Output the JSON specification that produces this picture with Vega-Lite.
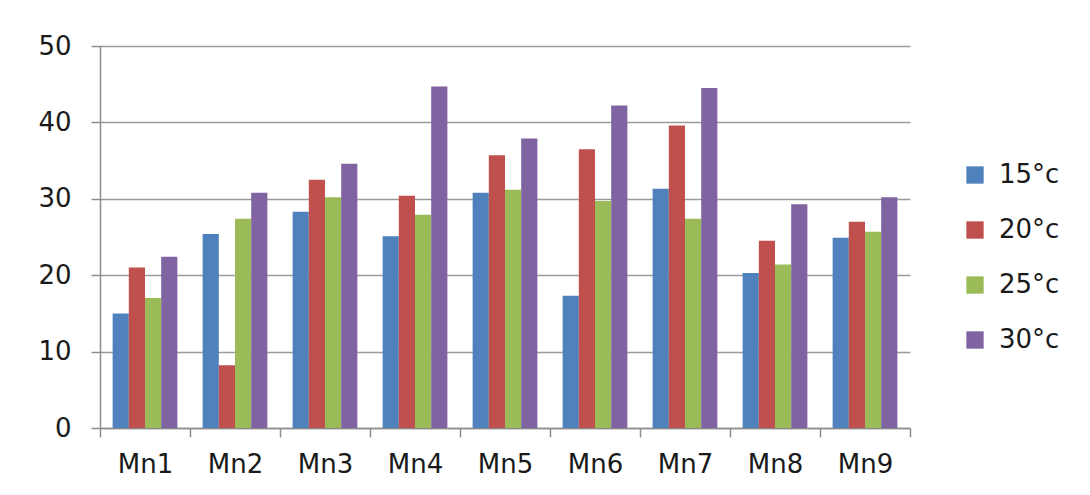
{
  "$schema": "https://vega.github.io/schema/vega-lite/v6.json",
  "autosize": {"type": "none"},
  "padding": {"left": 100, "top": 46, "right": 180, "bottom": 67},
  "width": 810,
  "height": 382,
  "background": "white",
  "data": {
    "values": [
      {"sample": "Mn1", "temp": "15°c", "value": 15.0},
      {"sample": "Mn1", "temp": "20°c", "value": 21.0},
      {"sample": "Mn1", "temp": "25°c", "value": 17.0},
      {"sample": "Mn1", "temp": "30°c", "value": 22.4},
      {"sample": "Mn2", "temp": "15°c", "value": 25.4},
      {"sample": "Mn2", "temp": "20°c", "value": 8.2},
      {"sample": "Mn2", "temp": "25°c", "value": 27.4},
      {"sample": "Mn2", "temp": "30°c", "value": 30.8},
      {"sample": "Mn3", "temp": "15°c", "value": 28.3},
      {"sample": "Mn3", "temp": "20°c", "value": 32.5},
      {"sample": "Mn3", "temp": "25°c", "value": 30.2},
      {"sample": "Mn3", "temp": "30°c", "value": 34.6},
      {"sample": "Mn4", "temp": "15°c", "value": 25.1},
      {"sample": "Mn4", "temp": "20°c", "value": 30.4},
      {"sample": "Mn4", "temp": "25°c", "value": 27.9},
      {"sample": "Mn4", "temp": "30°c", "value": 44.7},
      {"sample": "Mn5", "temp": "15°c", "value": 30.8},
      {"sample": "Mn5", "temp": "20°c", "value": 35.7},
      {"sample": "Mn5", "temp": "25°c", "value": 31.2},
      {"sample": "Mn5", "temp": "30°c", "value": 37.9},
      {"sample": "Mn6", "temp": "15°c", "value": 17.3},
      {"sample": "Mn6", "temp": "20°c", "value": 36.5},
      {"sample": "Mn6", "temp": "25°c", "value": 29.7},
      {"sample": "Mn6", "temp": "30°c", "value": 42.2},
      {"sample": "Mn7", "temp": "15°c", "value": 31.3},
      {"sample": "Mn7", "temp": "20°c", "value": 39.6},
      {"sample": "Mn7", "temp": "25°c", "value": 27.4},
      {"sample": "Mn7", "temp": "30°c", "value": 44.5},
      {"sample": "Mn8", "temp": "15°c", "value": 20.3},
      {"sample": "Mn8", "temp": "20°c", "value": 24.5},
      {"sample": "Mn8", "temp": "25°c", "value": 21.4},
      {"sample": "Mn8", "temp": "30°c", "value": 29.3},
      {"sample": "Mn9", "temp": "15°c", "value": 24.9},
      {"sample": "Mn9", "temp": "20°c", "value": 27.0},
      {"sample": "Mn9", "temp": "25°c", "value": 25.7},
      {"sample": "Mn9", "temp": "30°c", "value": 30.2}
    ]
  },
  "mark": {"type": "bar"},
  "encoding": {
    "x": {
      "field": "sample",
      "type": "nominal",
      "title": null,
      "scale": {"paddingInner": 0, "paddingOuter": 0},
      "axis": {
        "labelAngle": 0,
        "tickBand": "extent",
        "tickSize": 9,
        "tickColor": "#8c8c8c",
        "domainColor": "#8c8c8c",
        "labelPadding": 14,
        "labelFontSize": 26
      }
    },
    "xOffset": {"field": "temp", "type": "nominal", "scale": {"paddingInner": 0, "paddingOuter": 0.78}},
    "y": {
      "field": "value",
      "type": "quantitative",
      "title": null,
      "scale": {"domain": [0, 50], "nice": false},
      "axis": {
        "values": [0, 10, 20, 30, 40, 50],
        "tickSize": 9,
        "tickColor": "#8c8c8c",
        "domainColor": "#8c8c8c",
        "gridColor": "#9a9a9a",
        "labelPadding": 20,
        "labelFontSize": 26
      }
    },
    "color": {
      "field": "temp",
      "type": "nominal",
      "title": null,
      "scale": {"range": ["#4F81BD", "#C0504D", "#9BBB59", "#8064A2"]},
      "legend": {
        "orient": "none",
        "legendX": 862,
        "legendY": 116,
        "padding": 0,
        "symbolType": "square",
        "symbolSize": 300,
        "symbolStrokeWidth": 0,
        "labelFontSize": 26,
        "labelOffset": 11,
        "rowPadding": 29
      }
    }
  },
  "config": {
    "font": "DejaVu Sans",
    "view": {"stroke": null},
    "axis": {
      "labelColor": "#1a1a1a",
      "labelFont": "DejaVu Sans",
      "domainWidth": 1.5,
      "tickWidth": 1.5,
      "gridWidth": 1.5
    },
    "legend": {"labelColor": "#1a1a1a", "labelFont": "DejaVu Sans"}
  }
}
